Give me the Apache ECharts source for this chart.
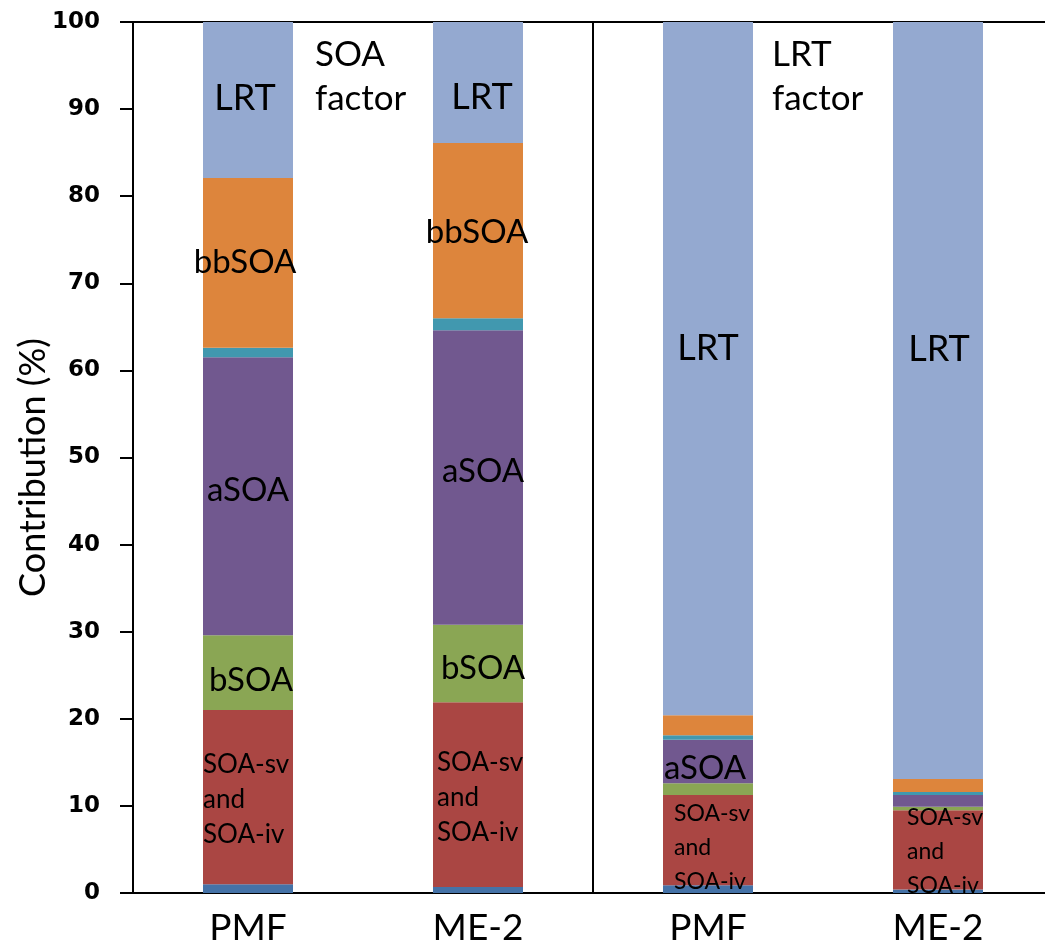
<!DOCTYPE html>
<html>
<head>
<meta charset="utf-8">
<script src="https://cdn.jsdelivr.net/npm/echarts@6/dist/echarts.min.js"></script>
<style>
html,body{margin:0;padding:0;background:#fff;}
#c{width:1045px;height:951px;}
</style>
</head>
<body>
<div id="c"></div>
<script>
// ---- data ----
const categories = ['PMF', 'ME-2', 'PMF', 'ME-2'];
const yTicks = [0, 10, 20, 30, 40, 50, 60, 70, 80, 90, 100];
const baseV   = [1.0, 0.7, 0.9, 0.4];
const svivV   = [20.0, 21.2, 10.35, 9.1];
const bsoaV   = [8.6, 8.9, 1.35, 0.4];
const asoaV   = [31.9, 33.8, 5.0, 1.35];
const otherV  = [1.1, 1.4, 0.5, 0.35];
const bbsoaV  = [19.5, 20.1, 2.3, 1.5];
const lrtV    = [17.9, 13.9, 79.6, 86.9];
const baseLbl  = [null, null, null, null];
const svivLbl  = ['SOA-sv\nand\nSOA-iv', 'SOA-sv\nand\nSOA-iv', 'SOA-sv\nand\nSOA-iv', 'SOA-sv\nand\nSOA-iv'];
const bsoaLbl  = ['bSOA', 'bSOA', null, null];
const asoaLbl  = ['aSOA', 'aSOA', 'aSOA', null];
const otherLbl = [null, null, null, null];
const bbsoaLbl = ['bbSOA', 'bbSOA', null, null];
const lrtLbl   = ['LRT', 'LRT', 'LRT', 'LRT'];
const panelNotes = ['SOA\nfactor', 'LRT\nfactor'];

// ---- styling / layout ----
const FONT = 'Lato';
const offsets = {
  lrt:   [[-3, -2], [4, 15], [0, -20], [1, -51]],
  bbsoa: [[-3, 0], [-1, 2], [0, 0], [0, 0]],
  asoa:  [[0, -6], [5, -6], [-3, 7], [0, 0]],
  bsoa:  [[3, 8], [5, 5], [0, 0], [0, 0]],
  sviv:  [[0, 2], [4, 3], [11, 7], [14, 2]]
};

function mkData(vals, lbls, kind, fs) {
  return vals.map((v, i) => {
    const t = lbls[i];
    if (!t) return { value: v, label: { show: false } };
    let lab;
    if (kind === 'sviv') {
      const small = i >= 2;
      lab = {
        show: true, position: 'insideLeft', distance: 0, formatter: t,
        color: '#000', fontFamily: FONT, fontSize: small ? 23 : 26,
        lineHeight: small ? 34 : 35, align: 'left'
      };
    } else {
      lab = { show: true, position: 'inside', formatter: t, color: '#000', fontFamily: FONT, fontSize: fs };
    }
    return { value: v, label: lab };
  });
}

const seriesDef = [
  { name: 'base', vals: baseV, lbls: baseLbl, key: 'base', color: '#4572A7' },
  { name: 'SOA-sv and SOA-iv', vals: svivV, lbls: svivLbl, key: 'sviv', color: '#AA4643', kind: 'sviv' },
  { name: 'bSOA', vals: bsoaV, lbls: bsoaLbl, key: 'bsoa', color: '#8AA654' },
  { name: 'aSOA', vals: asoaV, lbls: asoaLbl, key: 'asoa', color: '#71588F' },
  { name: 'other', vals: otherV, lbls: otherLbl, key: 'other', color: '#4198AF' },
  { name: 'bbSOA', vals: bbsoaV, lbls: bbsoaLbl, key: 'bbsoa', color: '#DD853C' },
  { name: 'LRT', vals: lrtV, lbls: lrtLbl, key: 'lrt', color: '#94A9D0', fs: 36 }
];

const series = seriesDef.map(s => ({
  name: s.name,
  type: 'bar',
  stack: 'total',
  barWidth: 90,
  itemStyle: { color: s.color },
  emphasis: { disabled: true },
  data: mkData(s.vals, s.lbls, s.kind, s.fs || 33),
  labelLayout: (p) => {
    const o = (offsets[s.key] || [])[p.dataIndex] || [0, 0];
    return { dx: o[0], dy: o[1], hideOverlap: false };
  }
}));

const chart = echarts.init(document.getElementById('c'), null, { renderer: 'canvas' });
chart.setOption({
  animation: false,
  backgroundColor: '#fff',
  grid: { left: 133, right: -8, top: 22, bottom: 58, containLabel: false, outerBoundsMode: 'none' },
  xAxis: [{
    type: 'category',
    data: categories,
    position: 'bottom',
    axisLine: { show: true, lineStyle: { color: '#000', width: 2 } },
    axisTick: { show: false },
    axisLabel: { color: '#000', fontFamily: FONT, fontSize: 37, margin: 17 },
    splitLine: { show: true, interval: 1, lineStyle: { color: '#000', width: 2 } }
  }, {
    type: 'category',
    data: categories,
    position: 'top',
    axisLine: { show: true, lineStyle: { color: '#000', width: 2 } },
    axisTick: { show: false },
    axisLabel: { show: false },
    splitLine: { show: false }
  }],
  yAxis: {
    type: 'value',
    min: yTicks[0], max: yTicks[yTicks.length - 1], interval: 10,
    name: 'Contribution (%)',
    nameLocation: 'middle',
    nameGap: 82,
    nameMoveOverlap: false,
    nameTextStyle: { color: '#000', fontFamily: FONT, fontSize: 36, padding: [0, 20, 0, 0] },
    axisLine: { show: true, lineStyle: { color: '#000', width: 2 } },
    axisTick: { show: true, length: 13, lineStyle: { color: '#000', width: 2 } },
    axisLabel: { color: '#000', fontFamily: 'DejaVu Sans', fontWeight: 'bold', fontSize: 23, margin: 33 },
    splitLine: { show: false }
  },
  graphic: [
    { type: 'text', left: 315, top: 33, silent: true,
      style: { text: panelNotes[0], fill: '#000', font: '35px Lato', lineHeight: 44 } },
    { type: 'text', left: 772, top: 33, silent: true,
      style: { text: panelNotes[1], fill: '#000', font: '35px Lato', lineHeight: 44 } }
  ],
  series: series
});
</script>
</body>
</html>
